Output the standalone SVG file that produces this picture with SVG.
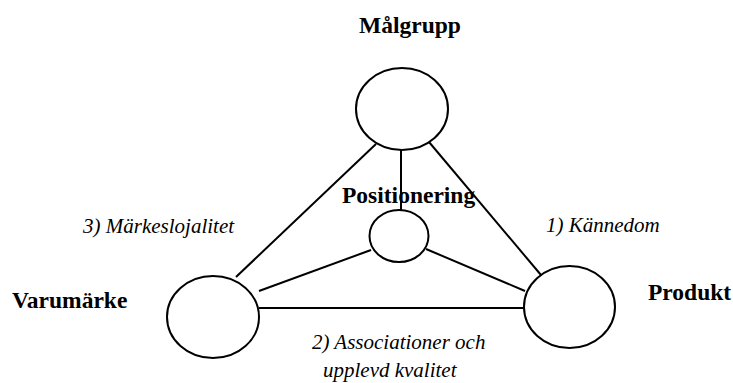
<svg xmlns="http://www.w3.org/2000/svg" width="733" height="383" viewBox="0 0 733 383">
<style>
.node{fill:#fff;stroke:#000;stroke-width:2}
.edge{stroke:#000;stroke-width:2;fill:none}
.t{font-family:"Liberation Serif","Times New Roman",serif;font-weight:bold;font-size:23.5px;fill:#000}
.l{font-family:"Liberation Serif","Times New Roman",serif;font-style:italic;font-size:21px;fill:#000}
</style>
<rect width="733" height="383" fill="#fff"/>
<g id="connectors">
<line class="edge" x1="376" y1="144" x2="236" y2="277"/>
<line class="edge" x1="401" y1="150" x2="401" y2="210"/>
<line class="edge" x1="429" y1="142" x2="541" y2="275"/>
<line class="edge" x1="371" y1="250" x2="259" y2="291"/>
<line class="edge" x1="426" y1="249" x2="525" y2="291"/>
<line class="edge" x1="259" y1="308" x2="524" y2="308"/>
</g>
<g id="malgrupp">
<ellipse class="node" cx="402" cy="109" rx="46" ry="41"/>
<text class="t" x="359" y="33">Målgrupp</text>
</g>
<g id="positionering">
<ellipse class="node" cx="399" cy="236" rx="29.5" ry="26"/>
<text class="t" x="342" y="203">Positionering</text>
</g>
<g id="varumarke">
<ellipse class="node" cx="213" cy="317" rx="46" ry="41"/>
<text class="t" x="12" y="308">Varumärke</text>
</g>
<g id="produkt">
<ellipse class="node" cx="569.5" cy="307" rx="45.5" ry="41"/>
<text class="t" x="648" y="300">Produkt</text>
</g>
<g id="labels">
<text class="l" x="83" y="233">3) Märkeslojalitet</text>
<text class="l" x="546" y="232">1) Kännedom</text>
<text class="l" x="312" y="349">2) Associationer och</text>
<text class="l" x="323" y="377">upplevd kvalitet</text>
</g>
</svg>
